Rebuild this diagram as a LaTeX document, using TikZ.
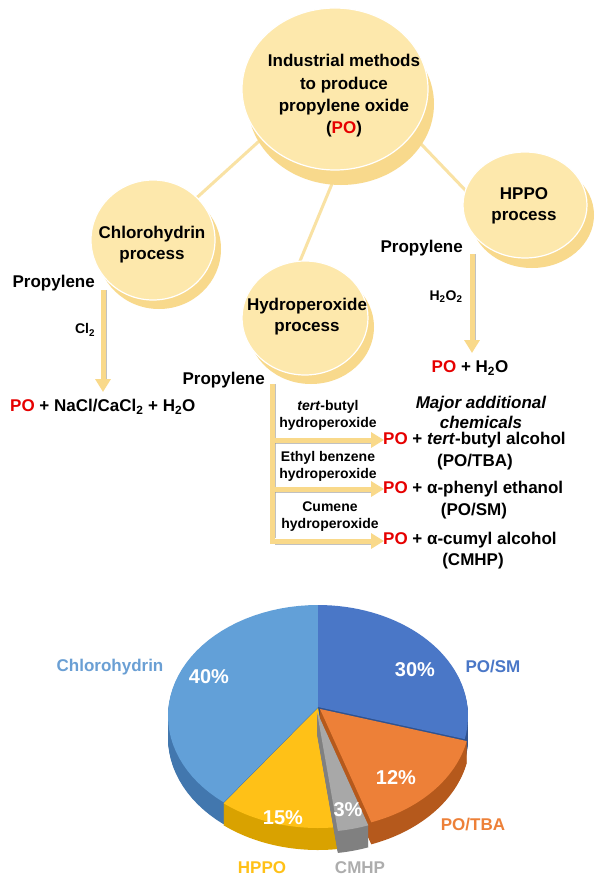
\documentclass[tikz,border=0pt]{standalone}
\usepackage{fontspec}
\setmainfont{Liberation Sans}
\usetikzlibrary{arrows.meta,calc,shapes.geometric}
\pgfdeclarelayer{back}
\pgfsetlayers{back,main}
\definecolor{discface}{HTML}{FDE8AC}
\definecolor{discedge}{HTML}{F8D98C}
\definecolor{linkc}{HTML}{F9E2A4}
\definecolor{arrowc}{HTML}{F9D98A}
\definecolor{pored}{HTML}{E60000}
\definecolor{posmtop}{HTML}{4A77C7}
\definecolor{posmside}{HTML}{2F528F}
\definecolor{chltop}{HTML}{62A0D8}
\definecolor{chlside}{HTML}{4277AE}
\definecolor{tbatop}{HTML}{ED8038}
\definecolor{tbaside}{HTML}{B5591C}
\definecolor{cmhptop}{HTML}{A8A8A8}
\definecolor{cmhpside}{HTML}{808080}
\definecolor{hppotop}{HTML}{FFC117}
\definecolor{hpposide}{HTML}{D9A200}
\definecolor{chllbl}{HTML}{6A9FD4}
\definecolor{cmhplbl}{HTML}{ADADAD}
\newcommand{\PO}{\textcolor{pored}{PO}}
\newcommand{\slicefill}[5]{\fill[#5] ({318+#3},{707+#4}) -- plot[domain=#1:#2,samples=40,variable=\t] ({318+#3+150*cos(\t)},{716+#4-111*sin(\t)}) -- cycle;}
\newcommand{\solidslice}[6]{%
  \foreach \k in {22,21,...,1}{\slicefill{#1}{#2}{#3}{#4+\k}{#6}}%
  \slicefill{#1}{#2}{#3}{#4}{#5}}
\tikzset{
  disc/.style={ellipse, fill=discface, draw=white, line width=1.2pt, inner sep=0pt},
  crescent/.style={fill=discedge},
  link/.style={draw=linkc, line width=3pt},
  flow/.style={draw=arrowc, line width=5pt, line join=miter, -{Triangle[width=15pt,length=13pt]}},
  shadowline/.style={draw=gray!80, line width=1.5pt, opacity=0.6},
  txt/.style={inner sep=0pt, align=center},
  small/.style={font={\fontsize{14}{17}\selectfont\bfseries}},
  pct/.style={inner sep=0pt, text=white, font={\fontsize{20}{24}\selectfont\bfseries}},
  pielbl/.style={inner sep=0pt, font={\fontsize{17}{20}\selectfont\bfseries}}
}
\begin{document}
\begin{tikzpicture}[x=1pt,y=-1pt,font={\fontsize{17}{21}\selectfont\bfseries}]
\useasboundingbox (0,0) rectangle (600,880);

% discs
\node[disc, minimum width=186pt, minimum height=162pt] (top) at (335,89) {};
\node[disc, minimum width=124pt, minimum height=120pt] (chl) at (153,240) {};
\node[disc, minimum width=126pt, minimum height=114pt] (hyd) at (305,318) {};
\node[disc, minimum width=124pt, minimum height=106pt] (hppo) at (525,205) {};

\begin{pgfonlayer}{back}
  \fill[white] (0,0) rectangle (600,880);
  \draw[link] ($(top)+(-35,15)$) -- ($(chl)+(17,-18)$);
  \draw[link] ($(top)+(11,61)$) -- ($(hyd)+(-17,-28)$);
  \draw[link] ($(top)+(65,33)$) -- ($(hppo)+(-35,11)$);
  \fill[crescent] ($(top)+(6,15)$) ellipse [x radius=93pt, y radius=81pt];
  \fill[crescent] ($(chl)+(6,9)$) ellipse [x radius=62pt, y radius=60pt];
  \fill[crescent] ($(hyd)+(6,9)$) ellipse [x radius=63pt, y radius=57pt];
  \fill[crescent] ($(hppo)+(7,10)$) ellipse [x radius=62pt, y radius=53pt];
\end{pgfonlayer}

\node[txt, font={\fontsize{17}{22.3}\selectfont\bfseries}] (toptxt) at (344,96) {Industrial methods\\to produce\\propylene oxide\\(\PO)};
\node[txt] (chltxt) at (152,245) {Chlorohydrin\\process};
\node[txt] (hydtxt) at (307,317) {Hydroperoxide\\process};
\node[txt] (hppotxt) at (524,206) {HPPO\\process};

% chlorohydrin route
\node[txt, anchor=east] (p1) at (95,283) {Propylene};
\coordinate (a1s) at (103,290);
\coordinate (a1e) at (103,392);
\draw[shadowline] ($(a1s)+(3.5,0)$) -- ($(a1e)+(3.5,-13)$);
\draw[flow] (a1s) -- (a1e);
\node[txt, small] (cl2) at (85,330) {Cl\textsubscript{2}};
\node[txt, anchor=west] (r1) at (10,407) {\PO{} + NaCl/CaCl\textsubscript{2} + H\textsubscript{2}O};

% HPPO route
\node[txt, anchor=east] (p3) at (463,248) {Propylene};
\coordinate (a3s) at (472,254);
\coordinate (a3e) at (472,353);
\draw[shadowline] ($(a3s)+(3.5,0)$) -- ($(a3e)+(3.5,-13)$);
\draw[flow] (a3s) -- (a3e);
\node[txt, small] (h2o2) at (446,297) {H\textsubscript{2}O\textsubscript{2}};
\node[txt] (r3) at (470,368) {\PO{} + H\textsubscript{2}O};

% hydroperoxide route
\node[txt, anchor=east] (p2) at (265,380) {Propylene};
\coordinate (hb) at (272,384);
\coordinate (t1) at (384,440);
\coordinate (t2) at (384,489);
\coordinate (t3) at (384,541);
\draw[shadowline] ($(hb)+(3.5,0)$) -- ($(hb |- t3)+(3.5,-3)$);
\draw[shadowline] ($(hb |- t1)+(3,3.5)$) -- ($(t1)+(-13,3.5)$);
\draw[shadowline] ($(hb |- t2)+(3,3.5)$) -- ($(t2)+(-13,3.5)$);
\draw[shadowline] ($(hb |- t3)+(3,3.5)$) -- ($(t3)+(-13,3.5)$);
\draw[flow] (hb) |- (t3);
\draw[flow] (hb |- t1) -- (t1);
\draw[flow] (hb |- t2) -- (t2);
\node[txt, small] (l1) at (328,415) {\textit{tert}-butyl\\hydroperoxide};
\node[txt, small] (l2) at (328,466) {Ethyl benzene\\hydroperoxide};
\node[txt, small] (l3) at (330,517) {Cumene\\hydroperoxide};
\node[txt, font={\fontsize{17}{20}\selectfont\bfseries\itshape}] (maj) at (481,412) {Major additional\\chemicals};
\node[txt, anchor=west] (r21) at (383,440) {\PO{} + \textit{tert}-butyl alcohol};
\node[txt] (r21b) at (475,462) {(PO/TBA)};
\node[txt, anchor=west] (r22) at (383,489) {\PO{} + α-phenyl ethanol};
\node[txt] (r22b) at (474,511) {(PO/SM)};
\node[txt, anchor=west] (r23) at (383,540) {\PO{} + α-cumyl alcohol};
\node[txt] (r23b) at (473,561) {(CMHP)};

% pie chart
\solidslice{90}{231}{0}{0}{chltop}{chlside}
\solidslice{-12}{90}{0}{0}{posmtop}{posmside}
\solidslice{-129}{-82}{0}{1}{hppotop}{hpposide}
\solidslice{-70}{-12}{2}{2}{tbatop}{tbaside}
\solidslice{-82}{-70}{-1}{5}{cmhptop}{cmhpside}

\node[pct] (v1) at (209,677) {40\%};
\node[pct] (v2) at (415,670) {30\%};
\node[pct] (v3) at (396,778) {12\%};
\node[pct] (v4) at (348,810) {3\%};
\node[pct] (v5) at (283,818) {15\%};
\node[pielbl, text=chllbl] (n1) at (110,667) {Chlorohydrin};
\node[pielbl, text=posmtop] (n2) at (493,667) {PO/SM};
\node[pielbl, text=tbatop] (n3) at (473,824) {PO/TBA};
\node[pielbl, text=hppotop] (n4) at (262,868) {HPPO};
\node[pielbl, text=cmhplbl] (n5) at (360,868) {CMHP};
\end{tikzpicture}
\end{document}
